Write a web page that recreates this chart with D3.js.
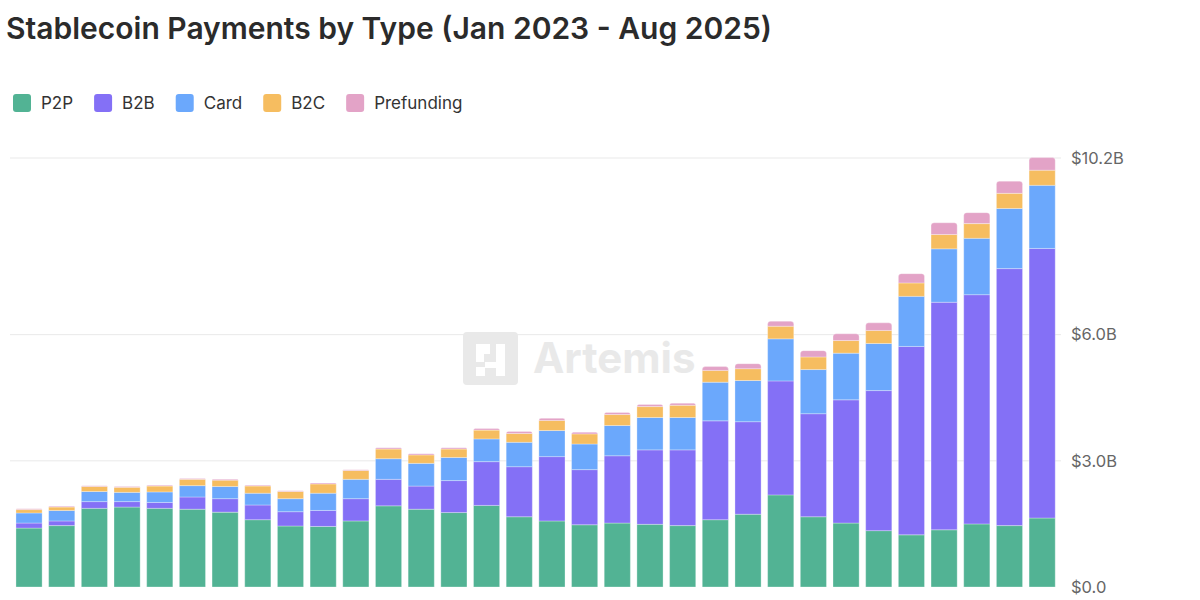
<!DOCTYPE html>
<html>
<head>
<meta charset="utf-8">
<script src="https://cdn.jsdelivr.net/npm/d3@7"></script>
<style>
	html, body { margin: 0; padding: 0; background: #fff; }
	svg { display: block; font-family: Inter, "Noto Sans", sans-serif; }
</style>
</head>
<body>
<div id="chart"></div>
<script>
// monthly stablecoin payments, $ billions
const months = [
	"Jan 2023", "Feb 2023", "Mar 2023", "Apr 2023", "May 2023", "Jun 2023", "Jul 2023", "Aug 2023",
	"Sep 2023", "Oct 2023", "Nov 2023", "Dec 2023", "Jan 2024", "Feb 2024", "Mar 2024", "Apr 2024",
	"May 2024", "Jun 2024", "Jul 2024", "Aug 2024", "Sep 2024", "Oct 2024", "Nov 2024", "Dec 2024",
	"Jan 2025", "Feb 2025", "Mar 2025", "Apr 2025", "May 2025", "Jun 2025", "Jul 2025", "Aug 2025"
];
const p2p = [1.40, 1.46, 1.87, 1.90, 1.87, 1.85, 1.78, 1.60, 1.45, 1.44, 1.57, 1.93, 1.85, 1.77, 1.94, 1.67,
	1.57, 1.48, 1.52, 1.49, 1.46, 1.60, 1.73, 2.19, 1.67, 1.52, 1.34, 1.24, 1.36, 1.50, 1.46, 1.64];
const b2b = [0.12, 0.11, 0.16, 0.13, 0.14, 0.29, 0.32, 0.35, 0.34, 0.38, 0.53, 0.63, 0.55, 0.76, 1.04, 1.19,
	1.53, 1.31, 1.60, 1.77, 1.80, 2.35, 2.20, 2.71, 2.45, 2.93, 3.33, 4.48, 5.41, 5.45, 6.11, 6.41];
const card = [0.24, 0.25, 0.24, 0.22, 0.25, 0.27, 0.29, 0.28, 0.31, 0.41, 0.46, 0.49, 0.54, 0.55, 0.54, 0.58,
	0.62, 0.61, 0.72, 0.77, 0.77, 0.92, 0.98, 1.00, 1.05, 1.11, 1.12, 1.19, 1.27, 1.34, 1.43, 1.50];
const b2c = [0.08, 0.08, 0.12, 0.12, 0.14, 0.15, 0.15, 0.17, 0.17, 0.22, 0.21, 0.23, 0.20, 0.20, 0.21, 0.21,
	0.24, 0.24, 0.26, 0.26, 0.29, 0.28, 0.28, 0.30, 0.30, 0.30, 0.31, 0.32, 0.34, 0.35, 0.36, 0.36];
const prefunding = [0.02, 0.02, 0.02, 0.02, 0.02, 0.02, 0.02, 0.02, 0.02, 0.02, 0.02, 0.03, 0.03, 0.03, 0.04, 0.05,
	0.05, 0.04, 0.05, 0.05, 0.05, 0.09, 0.12, 0.12, 0.15, 0.16, 0.18, 0.22, 0.28, 0.26, 0.29, 0.30];

const seriesNames = ["P2P", "B2B", "Card", "B2C", "Prefunding"];
const seriesValues = [p2p, b2b, card, b2c, prefunding];
const seriesColors = ["#52b394", "#8470f6", "#6ba8fc", "#f6bd60", "#e3a3c7"];
const yTicks = [0, 3, 6, 10.2];
const title = "Stablecoin Payments by Type (Jan 2023 - Aug 2025)";

const width = 1200;
const height = 600;

const svg = d3.select("#chart")
	.append("svg")
	.attr("width", width)
	.attr("height", height);

// table for the stack
const rows = months.map((m, i) => {
	const row = { month: m };
	seriesNames.forEach((s, j) => { row[s] = seriesValues[j][i]; });
	return row;
});
const stacked = d3.stack().keys(seriesNames)(rows);

const xScale = d3.scaleBand()
	.domain(months)
	.range([12.7, 1058.5])
	.paddingInner(0.2)
	.paddingOuter(0.1);

const yScale = d3.scaleLinear()
	.domain([0, 10.2])
	.range([587, 158]);

const color = d3.scaleOrdinal().domain(seriesNames).range(seriesColors);

// watermark
const wm = svg.append("g").attr("opacity", 0.9);
wm.append("rect")
	.attr("x", 463).attr("y", 332)
	.attr("width", 55).attr("height", 53)
	.attr("rx", 4)
	.attr("fill", "#e7e7e7");
wm.append("path")
	.attr("d", "M476,344h14v10h-6v8h-8z M496,344h9v32h-9z M476,367h9v9h-9z M485,362h11v6h-11z")
	.attr("fill", "#fff");
wm.append("text")
	.attr("x", 533).attr("y", 373)
	.attr("font-size", 42)
	.attr("font-weight", 700)
	.attr("fill", "#e7e7e7")
	.text("Artemis");

// gridlines
svg.append("g")
	.selectAll("line")
	.data(yTicks.filter((d) => d > 0))
	.join("line")
	.attr("x1", 10)
	.attr("x2", 1061)
	.attr("y1", (d) => yScale(d))
	.attr("y2", (d) => yScale(d))
	.attr("stroke", "#e9e9e9")
	.attr("stroke-width", 1);

// y axis on the right
const yAxis = (g) =>
	g.call(
		d3.axisRight(yScale)
			.tickValues(yTicks)
			.tickSize(0)
			.tickPadding(0)
			.tickFormat((d) => d === 0 ? "$0.0" : `$${d.toFixed(1)}B`)
	)
	.call((g) => g.select(".domain").remove())
	.selectAll("text")
	.attr("font-family", "Inter, sans-serif")
	.attr("font-size", 16.5)
	.attr("fill", "#666");

svg.append("g")
	.attr("transform", "translate(1071,0)")
	.call(yAxis);

// bars: rounded top only on the last (top) segment
const topPath = (x, y, w, h, r) => {
	r = Math.min(r, h, w / 2);
	return `M${x},${y + h}V${y + r}Q${x},${y} ${x + r},${y}H${x + w - r}Q${x + w},${y} ${x + w},${y + r}V${y + h}Z`;
};

const layers = svg.append("g")
	.selectAll("g")
	.data(stacked)
	.join("g")
	.attr("fill", (d) => color(d.key));

layers.each(function (layer, li) {
	const isTop = li === stacked.length - 1;
	d3.select(this)
		.selectAll("path")
		.data(layer)
		.join("path")
		.attr("d", (d) => {
			const x = xScale(d.data.month);
			const y = yScale(d[1]);
			const h = yScale(d[0]) - yScale(d[1]);
			return isTop ? topPath(x, y, xScale.bandwidth(), h, 3)
				: `M${x},${y}h${xScale.bandwidth()}v${h}h${-xScale.bandwidth()}Z`;
		})
		.attr("stroke", "#fff")
		.attr("stroke-opacity", 0.5)
		.attr("stroke-width", 0.6);
});

// title
svg.append("text")
	.attr("x", 6)
	.attr("y", 39)
	.attr("font-size", 30)
	.attr("font-weight", 600)
	.attr("fill", "#2b2b2b")
	.text(title);

// legend
const legend = svg.append("g").attr("transform", "translate(13,94)");
let lx = 0;
seriesNames.forEach((name, i) => {
	const item = legend.append("g").attr("transform", `translate(${lx},0)`);
	item.append("rect")
		.attr("width", 18)
		.attr("height", 18)
		.attr("rx", 3)
		.attr("fill", seriesColors[i]);
	const t = item.append("text")
		.attr("x", 28)
		.attr("y", 9)
		.attr("dy", "0.35em")
		.attr("font-size", 17)
		.attr("fill", "#333")
		.text(name);
	lx += 28 + t.node().getComputedTextLength() + 21;
});
</script>
</body>
</html>
